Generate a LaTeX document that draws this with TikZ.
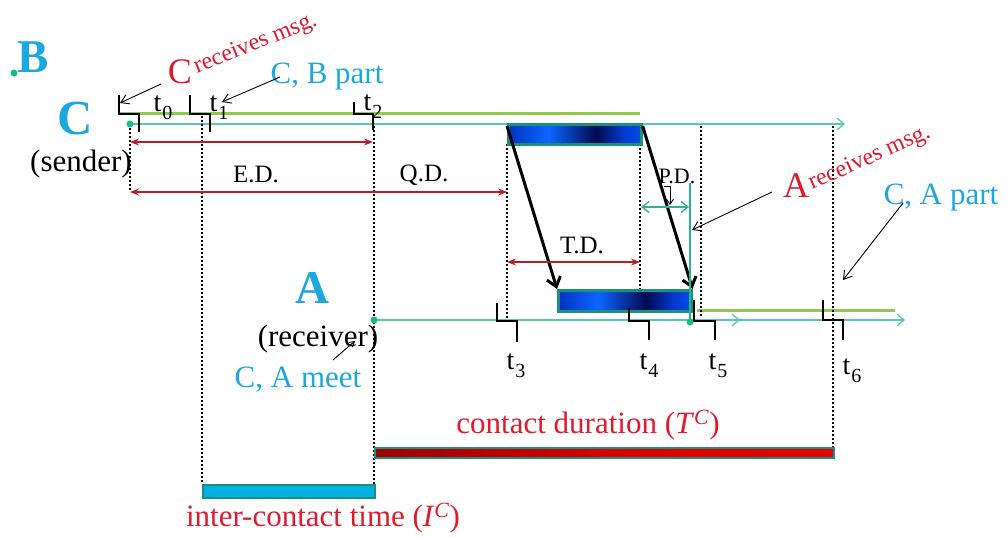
\documentclass[tikz,border=0pt]{standalone}
\usepackage{fontspec}
\setmainfont{Liberation Serif}
\usetikzlibrary{arrows.meta}
\definecolor{cyantxt}{RGB}{28,168,222}
\definecolor{redtxt}{RGB}{225,25,45}
\definecolor{lgreen}{RGB}{146,200,80}
\definecolor{tline}{RGB}{90,200,175}
\definecolor{teal2}{RGB}{25,145,125}
\definecolor{darkred}{RGB}{185,30,35}
\definecolor{icbar}{RGB}{0,178,228}
\definecolor{gdot}{RGB}{20,190,130}
\definecolor{pdgreen}{RGB}{40,180,140}
\pgfdeclarehorizontalshading{blockshade}{100bp}{rgb(0bp)=(0,0.2,0.75); rgb(25bp)=(0,0.2,0.75); rgb(40bp)=(0.05,0.4,1); rgb(58bp)=(0,0.04,0.32); rgb(68bp)=(0.02,0.22,0.8); rgb(75bp)=(0,0.3,0.92); rgb(100bp)=(0,0.3,0.92)}
\newcommand{\tsb}[1]{t\kern0.03em\raisebox{-0.28em}{\fontsize{20}{20}\selectfont #1}}
\newcommand{\vdotline}[3]{\foreach \yy in {#2,\the\numexpr#2+4\relax,...,#3} {\fill[black] (#1-1.2,\yy) rectangle ++(2.4,2.4);}}
\begin{document}
\begin{tikzpicture}[x=1pt,y=-1pt,
  lbl/.style={inner sep=0pt, font=\fontsize{31}{33}\selectfont},
  big/.style={inner sep=0pt, text=cyantxt, font=\bfseries\fontsize{47}{49}\selectfont},
  dur/.style={inner sep=0pt, font=\fontsize{25}{27}\selectfont},
  tlab/.style={inner sep=0pt, font=\fontsize{28}{30}\selectfont},
  redbig/.style={inner sep=0pt, text=redtxt, font=\fontsize{36}{38}\selectfont},
  redrot/.style={inner sep=0pt, text=redtxt, font=\fontsize{24}{26}\selectfont, anchor=base west},
  tick/.style={line width=1.8pt, black},
  gline/.style={line width=3pt, lgreen},
  tl/.style={line width=1.3pt, tline},
  tlarrow/.style={tl, -{Straight Barb[length=7pt,width=12pt]}},
  dim/.style={line width=1.2pt, darkred, {Stealth[length=9pt,width=7pt]}-{Stealth[length=9pt,width=7pt]}},
  msgarrow/.style={line width=3pt, black, -{Straight Barb[length=9pt,width=14pt]}},
  ptr/.style={line width=0.9pt, black, -{Straight Barb[length=8pt,width=10pt]}},
  gdotst/.style={circle, fill=gdot, inner sep=0pt, minimum size=7pt},
  block/.style={shading=blockshade, draw=teal2, line width=2.6pt, inner sep=0pt, anchor=north west}
]
\useasboundingbox (0,0) rectangle (1007,538);

% ---------- coordinates ----------
\coordinate (Cs) at (130,124);
\coordinate (Ce) at (845,124);
\coordinate (As) at (374,320);
\coordinate (Am) at (740,320);
\coordinate (Ae) at (905,320);
\coordinate (Ab) at (690,320);

% ---------- timelines ----------
\draw[gline] (118,113) -- (640,113);
\draw[gline] (697,310) -- (895,310);
\draw[tlarrow] (Cs) -- (Ce);
\draw[tlarrow] (As) -- (Am);
\draw[tlarrow] (Ab) -- (Ae);

% ---------- dotted verticals ----------
\vdotline{130}{128}{190}
\vdotline{202}{116}{482}
\vdotline{374}{126}{482}
\vdotline{507}{144}{320}
\vdotline{640}{144}{290}
\vdotline{701}{126}{314}
\vdotline{833}{126}{454}

% ---------- bars ----------
\node[anchor=north west, minimum width=459pt, minimum height=10pt, inner sep=0pt, draw=teal2, line width=2pt, left color=red!62!black, right color=red!92!black, middle color=red!85!black] (cdbar) at (374,447) {};
\node[anchor=north west, minimum width=172pt, minimum height=13pt, inner sep=0pt, draw=teal2, line width=2pt, fill=icbar] (icbar) at (202,484) {};

% ---------- message blocks ----------
\node[block, minimum width=133pt, minimum height=20pt] (txblk) at (507,123) {};
\node[block, minimum width=133pt, minimum height=21pt] (rxblk) at (557,289) {};
\draw[msgarrow] (txblk.north west) ++(0,3) -- (rxblk.north west);
\draw[msgarrow] (txblk.north east) ++(0,3) -- (rxblk.north east);

% ---------- P.D. ----------
\draw[line width=1.6pt, pdgreen] (690,183) -- (690,322);
\draw[line width=1.3pt, pdgreen, {Straight Barb[length=7pt,width=11pt]}-{Straight Barb[length=7pt,width=11pt]}] (641,207) -- (689,207);
\draw[line width=0.9pt, black, -{Straight Barb[length=5pt,width=7pt]}] (664,186) -- (670,186) -- (670,205);

% ---------- dimension arrows ----------
\draw[dim] (130,142) -- (373,142);
\draw[dim] (130,192) -- (507,192);
\draw[dim] (507,262) -- (640,262);

% ---------- ticks ----------
\draw[tick] (119,95) -- (119,114) -- (139,114) -- (139,132);
\draw[tick] (190,95) -- (190,114) -- (210,114) -- (210,132);
\draw[tick] (354,102) -- (354,114) -- (373,114) -- (373,130);
\draw[tick] (497,303) -- (497,321) -- (517,321) -- (517,342);
\draw[tick] (629,308) -- (629,321) -- (649,321) -- (649,340);
\draw[tick] (694,300) -- (694,321) -- (715,321) -- (715,340);
\draw[tick] (823,300) -- (823,320) -- (843,320) -- (843,340);

% ---------- green dots ----------
\node[gdotst] (dotB) at (14,73) {};
\node[gdotst] (dotC) at (Cs) {};
\node[gdotst] (dotA) at (As) {};
\node[gdotst] (dotR) at (690,322) {};

% ---------- tick labels ----------
\node[tlab] (t0) at (163,108) {\tsb{0}};
\node[tlab] (t1) at (219,108) {\tsb{1}};
\node[tlab] (t2) at (373,107) {\tsb{2}};
\node[tlab] (t3) at (516,366) {\tsb{3}};
\node[tlab] (t4) at (649,366) {\tsb{4}};
\node[tlab] (t5) at (718,366) {\tsb{5}};
\node[tlab] (t6) at (852,371) {\tsb{6}};

% ---------- labels ----------
\node[big] (Blab) at (33,57) {B};
\node[big, font=\bfseries\fontsize{49}{51}\selectfont] (Clab) at (75,119) {C};
\node[big] (Alab) at (312,288) {A};
\node[lbl] (sender) at (81,164) {(sender)};
\node[lbl] (recv) at (318,339) {(receiver)};
\node[lbl, text=cyantxt] (meet) at (298,380) {C, A meet};
\node[lbl, text=cyantxt] (cbpart) at (327,77) {C, B part};
\node[lbl, text=cyantxt] (capart) at (941,198) {C, A part};
\node[lbl, text=redtxt] (cdlab) at (588,425) {contact duration (\textit{T}\textsuperscript{\textit{C}})};
\node[lbl, text=redtxt] (iclab) at (323,518) {inter-contact time (\textit{I}\textsuperscript{\textit{C}})};

\node[dur] (ED) at (256,174) {E.D.};
\node[dur] (QD) at (424,175) {Q.D.};
\node[dur] (TD) at (582,245) {T.D.};
\node[dur, font=\fontsize{22}{24}\selectfont] (PD) at (677,176) {P.D.};

\node[redbig] (Cr) at (180,72) {C};
\node[redrot, rotate=22] (crmsg) at (197,74) {receives msg.};
\node[redbig] (Ar) at (796,186) {A};
\node[redrot, rotate=24] (armsg) at (812,190) {receives msg.};

% ---------- pointer arrows ----------
\coordinate (p0) at (161,84);  \coordinate (q0) at (120,103);
\coordinate (p1) at (280,77);  \coordinate (q1) at (222,102);
\coordinate (p2) at (772,192); \coordinate (q2) at (692,230);
\coordinate (p3) at (903,203); \coordinate (q3) at (843,280);
\coordinate (p4) at (333,360); \coordinate (q4) at (355,341);
\draw[ptr] (p0) -- (q0);
\draw[ptr] (p1) -- (q1);
\draw[ptr] (p2) -- (q2);
\draw[ptr] (p3) -- (q3);
\draw[line width=0.9pt, black, -{Straight Barb[length=5pt,width=6pt]}] (p4) -- (q4);
\end{tikzpicture}
\end{document}
